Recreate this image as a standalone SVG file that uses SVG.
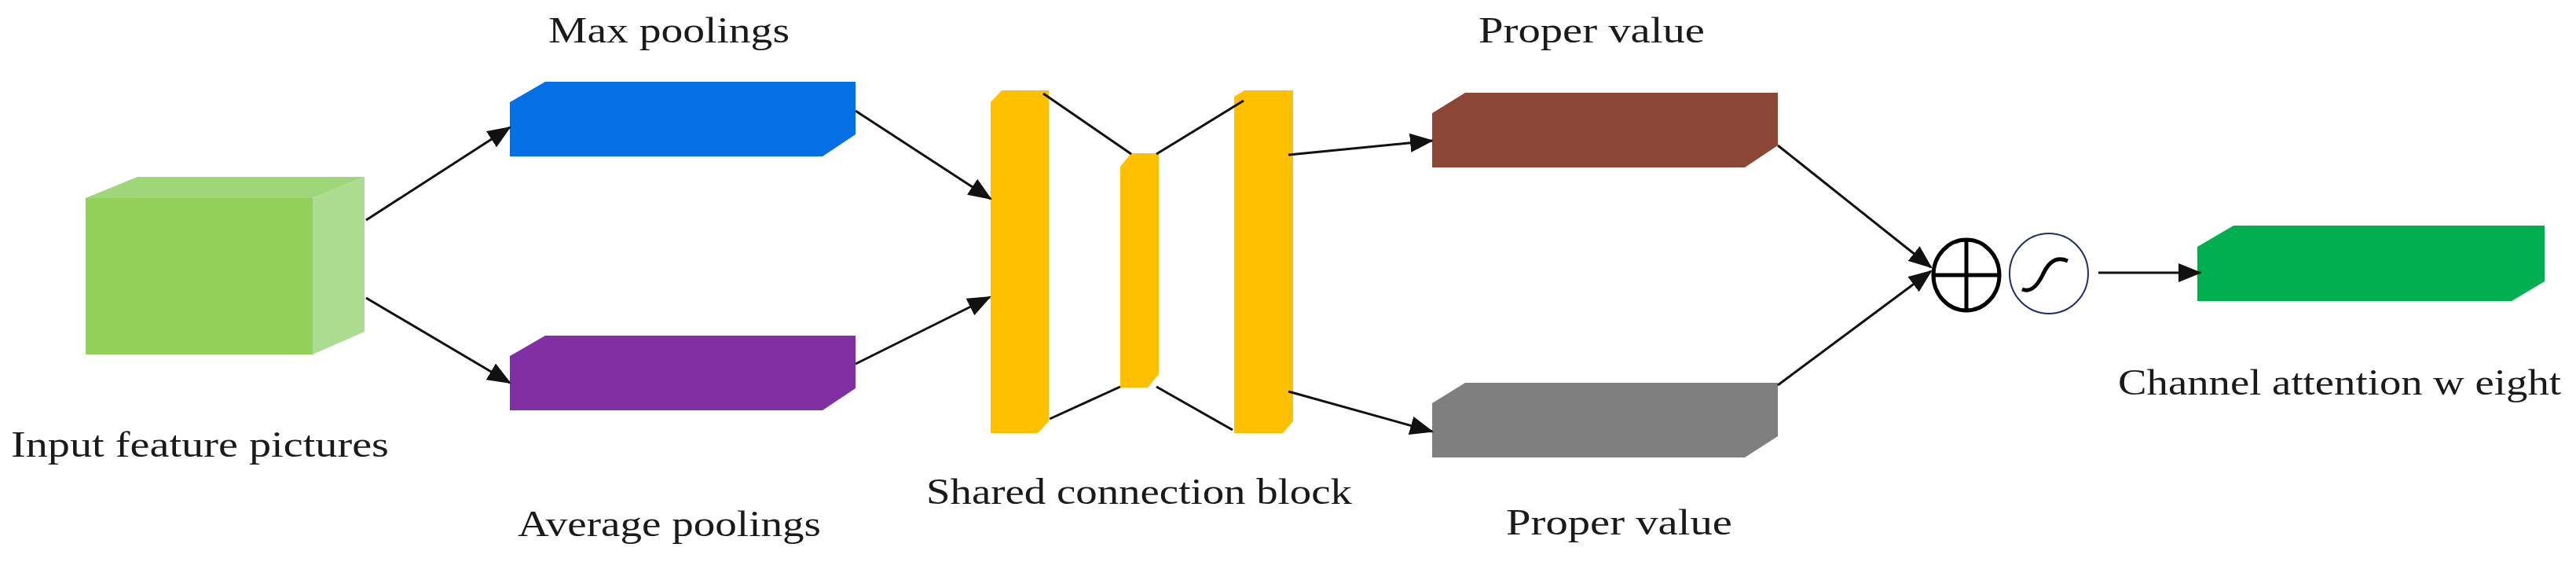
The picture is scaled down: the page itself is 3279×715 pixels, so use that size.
<svg xmlns="http://www.w3.org/2000/svg" width="3279" height="715" viewBox="0 0 3279 715">
<style>
text{font-family:"Liberation Serif",serif;font-size:46px;fill:#1a1a1a}
.c{stroke:#111;stroke-width:3;fill:none}
.a{marker-end:url(#ah)}
</style>
<defs>
<marker id="ah" markerUnits="userSpaceOnUse" markerWidth="30" markerHeight="24" refX="28" refY="12" orient="auto"><path d="M0,0 L30,12 L0,24 Z" fill="#111"/></marker>
</defs>
<rect width="3279" height="715" fill="#fff"/>
<g id="input">
<polygon points="109,252 175,225 464,225 398,252" fill="#9fd67a"/>
<polygon points="398,252 464,225 464,422 398,451" fill="#acdc90"/>
<rect x="109" y="252" width="289" height="199" fill="#92d05a"/>
<text x="14" y="581" textLength="481" lengthAdjust="spacingAndGlyphs">Input feature pictures</text>
</g>
<g id="maxpool">
<polygon points="649,130 694,104 1089,104 1089,171 1047,199 649,199" fill="#056fe6"/>
<text x="698" y="54" textLength="307" lengthAdjust="spacingAndGlyphs">Max  poolings</text>
</g>
<g id="avgpool">
<polygon points="649,453 694,427 1089,427 1089,494 1047,522 649,522" fill="#8130a3"/>
<text x="659" y="682" textLength="386" lengthAdjust="spacingAndGlyphs">Average poolings</text>
</g>
<g id="shared">
<polygon points="1261,130 1275,115 1335,115 1335,536 1321,551 1261,551" fill="#ffc000"/>
<polygon points="1426,212 1440,195 1475,195 1475,476 1461,493 1426,493" fill="#ffc000"/>
<polygon points="1571,123 1584,115 1646,115 1646,536 1633,551 1571,551" fill="#ffc000"/>
<text x="1179" y="641" textLength="542" lengthAdjust="spacingAndGlyphs">Shared connection block</text>
</g>
<g id="proper1">
<polygon points="1823,144 1865,118 2263,118 2263,185 2221,213 1823,213" fill="#8b4636"/>
<text x="1882" y="54" textLength="288" lengthAdjust="spacingAndGlyphs">Proper value</text>
</g>
<g id="proper2">
<polygon points="1823,513 1865,487 2263,487 2263,555 2221,582 1823,582" fill="#7f7f7f"/>
<text x="1917" y="680" textLength="288" lengthAdjust="spacingAndGlyphs">Proper value</text>
</g>
<g id="sum">
<ellipse cx="2503" cy="350" rx="42" ry="45" fill="#fff" stroke="#000" stroke-width="5"/>
<line x1="2461" y1="350" x2="2545" y2="350" stroke="#000" stroke-width="5"/>
<line x1="2503" y1="305" x2="2503" y2="395" stroke="#000" stroke-width="5"/>
</g>
<g id="sigmoid">
<ellipse cx="2608" cy="348" rx="50" ry="51" fill="#fff" stroke="#1f2f6b" stroke-width="2"/>
<path d="M2574,368 C2584,372 2592,366 2600,350 C2608,332 2618,326 2632,332" fill="none" stroke="#000" stroke-width="5"/>
</g>
<g id="output">
<polygon points="2797,314 2843,287 3239,287 3239,358 3197,383 2797,383" fill="#00b050"/>
<text x="2696" y="502" textLength="564" lengthAdjust="spacingAndGlyphs">Channel attention w eight</text>
</g>
<g id="connectors">
<line class="c a" x1="466" y1="280" x2="649" y2="162"/>
<line class="c a" x1="466" y1="379" x2="649" y2="487"/>
<line class="c a" x1="1089" y1="141" x2="1261" y2="253"/>
<line class="c a" x1="1089" y1="463" x2="1260" y2="378"/>
<line class="c" x1="1328" y1="119" x2="1440" y2="196"/>
<line class="c" x1="1472" y1="196" x2="1583" y2="128"/>
<line class="c" x1="1336" y1="533" x2="1426" y2="492"/>
<line class="c" x1="1472" y1="492" x2="1569" y2="547"/>
<line class="c a" x1="1640" y1="197" x2="1823" y2="179"/>
<line class="c a" x1="1640" y1="498" x2="1823" y2="549"/>
<line class="c a" x1="2263" y1="185" x2="2458" y2="340"/>
<line class="c a" x1="2263" y1="490" x2="2458" y2="345"/>
<line class="c a" x1="2671" y1="347" x2="2801" y2="347"/>
</g>
</svg>
